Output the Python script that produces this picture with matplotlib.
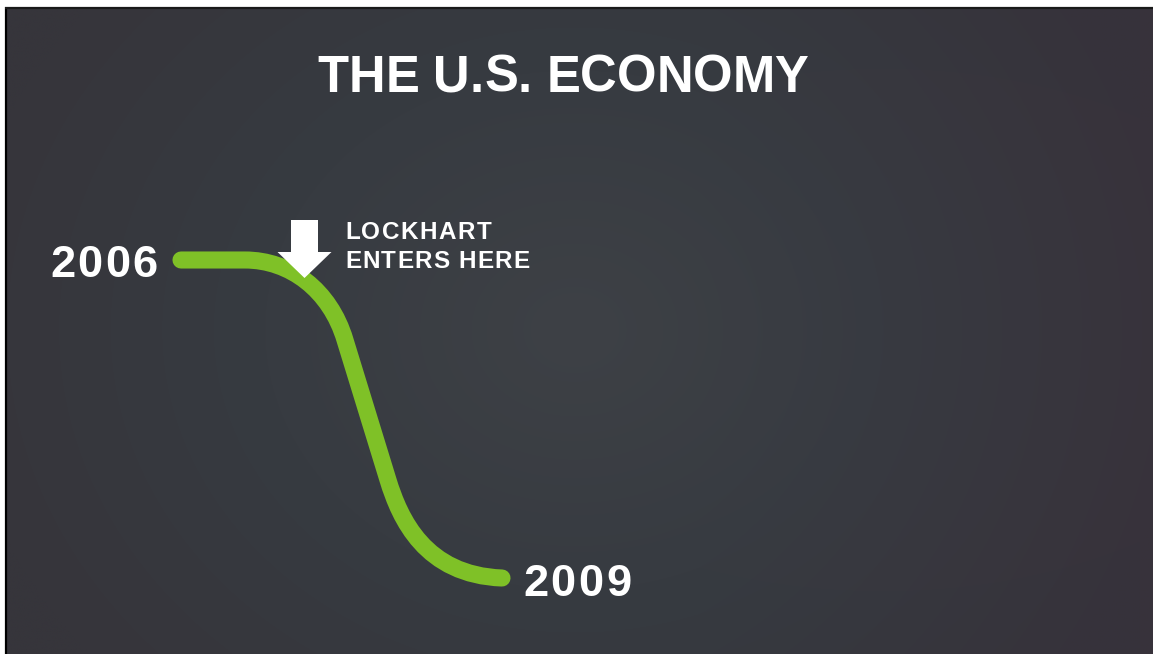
import numpy as np
import matplotlib
matplotlib.use("Agg")
import matplotlib.pyplot as plt
from matplotlib.path import Path
from matplotlib.patches import PathPatch, Polygon

# ---- data (pixel space of the slide) ----
title = "THE U.S. ECONOMY"
start_label = "2006"
end_label = "2009"
annotation = "LOCKHART\nENTERS HERE"

# economy curve: path vertices and codes (line / cubic bezier segments)
curve_x = [181, 245, 290, 330, 345, 388, 400, 425, 502]
curve_y = [260, 260, 260, 290, 340, 480, 519, 575, 578]
curve_codes = [Path.MOVETO, Path.LINETO,
               Path.CURVE4, Path.CURVE4, Path.CURVE4,
               Path.LINETO,
               Path.CURVE4, Path.CURVE4, Path.CURVE4]

arrow_x = 304.5      # arrow centre
arrow_top = 220
arrow_tip = 278

W, H = 1153, 654
BG_EDGE = np.array([54, 53, 59]) / 255
BG_MID = np.array([55, 59, 65]) / 255
BG_CENTER = np.array([62, 65, 70]) / 255
GREEN = "#7fc127"
FONT = "Liberation Sans"

fig = plt.figure(figsize=(W / 100, H / 100), dpi=100, facecolor="white")
ax = fig.add_axes([0, 0, 1, 1])
ax.set_xlim(0, W)
ax.set_ylim(H, 0)
ax.axis("off")
renderer = fig.canvas.get_renderer()


def tracked_text(x, y, s, size, tracking, ha="left"):
    """Draw bold white text with extra letter spacing (pixels)."""
    probe = ax.text(0, 0, s, fontsize=size, fontweight="bold", family=FONT)
    widths = []
    for i in range(len(s) + 1):
        probe.set_text(s[:i] if i else "")
        widths.append(probe.get_window_extent(renderer).width if i else 0.0)
    probe.remove()
    total = widths[-1] + tracking * (len(s) - 1)
    start = x if ha == "left" else (x - total if ha == "right" else x - total / 2)
    for i, ch in enumerate(s):
        if ch == " ":
            continue
        ax.text(start + widths[i] + tracking * i, y, ch, color="white", fontsize=size,
                fontweight="bold", family=FONT, ha="left", va="baseline", zorder=3)


# radial gradient background
x0, y0 = 6, 8
gx = np.linspace(x0, W, 600)
gy = np.linspace(y0, H, 350)
X, Y = np.meshgrid(gx, gy)
r = np.sqrt(((X - 575) / 620) ** 2 + ((Y - 330) / 520) ** 2)
r = np.clip(r, 0, 1)[..., None]
t1 = np.clip(r / 0.5, 0, 1)
t2 = np.clip((r - 0.5) / 0.5, 0, 1)
img = np.where(r < 0.5,
               BG_CENTER * (1 - t1) + BG_MID * t1,
               BG_MID * (1 - t2) + BG_EDGE * t2)
img = img + (np.clip((X - 700) / 450, 0, 1)[..., None] * np.array([0.004, -0.01, 0.0]))
ax.imshow(img, extent=(x0, W, H, y0), aspect="auto", zorder=0, interpolation="bilinear")

# frame lines
ax.plot([5.5, 5.5], [7, H], color="black", lw=1.6, zorder=1, solid_capstyle="butt")
ax.plot([5, W], [7.8, 7.8], color="#1a1a1a", lw=1.6, zorder=1, solid_capstyle="butt")

# title
tracked_text(563, 92, title, 36.5, 0.0, ha="center")

# curve
path = Path(np.column_stack([curve_x, curve_y]), curve_codes)
ax.add_patch(PathPatch(path, facecolor="none", edgecolor=GREEN, lw=12.3,
                       capstyle="round", joinstyle="round", zorder=2))

# year labels
tracked_text(158, 277, start_label, 32.5, 2.5, ha="right")
tracked_text(523, 596, end_label, 32.5, 2.5, ha="left")

# arrow
sw, hw, head_start = 13.5, 27, 252
arrow = Polygon([(arrow_x - sw, arrow_top), (arrow_x + sw, arrow_top),
                 (arrow_x + sw, head_start), (arrow_x + hw, head_start),
                 (arrow_x, arrow_tip), (arrow_x - hw, head_start),
                 (arrow_x - sw, head_start)],
                closed=True, facecolor="white", edgecolor="none", zorder=4)
ax.add_patch(arrow)

line1, line2 = annotation.split("\n")
tracked_text(345, 239, line1, 17.5, 1.5)
tracked_text(345, 268, line2, 17.5, 1.2)

fig.savefig("out.png", dpi=100, facecolor="white")
